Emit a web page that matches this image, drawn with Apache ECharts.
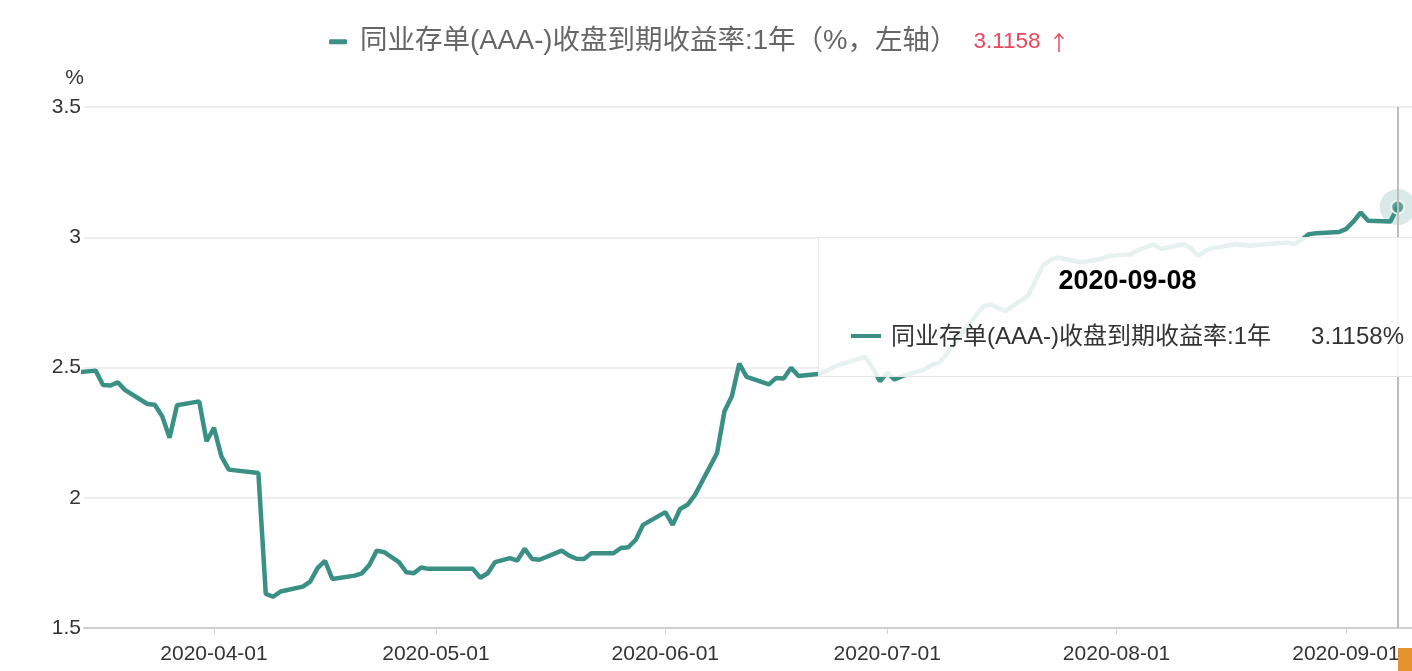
<!DOCTYPE html>
<html><head><meta charset="utf-8">
<script src="https://cdn.jsdelivr.net/npm/echarts@6/dist/echarts.min.js"></script>
<style>html,body{margin:0;padding:0;overflow:hidden;background:#fff}#c{width:1412px;height:671px}</style>
</head><body><div id="c"></div>
<script>
const seriesName = '同业存单(AAA-)收盘到期收益率:1年';
const legendSuffix = '（%，左轴）';
const dates = ['2020-03-13','2020-03-16','2020-03-17','2020-03-18','2020-03-19','2020-03-20','2020-03-23','2020-03-24','2020-03-25','2020-03-26','2020-03-27','2020-03-30','2020-03-31',
'2020-04-01','2020-04-02','2020-04-03','2020-04-07','2020-04-08','2020-04-09','2020-04-10','2020-04-13','2020-04-14','2020-04-15','2020-04-16','2020-04-17','2020-04-20','2020-04-21','2020-04-22','2020-04-23','2020-04-24','2020-04-26','2020-04-27','2020-04-28','2020-04-29','2020-04-30',
'2020-05-06','2020-05-07','2020-05-08','2020-05-09','2020-05-11','2020-05-12','2020-05-13','2020-05-14','2020-05-15','2020-05-18','2020-05-19','2020-05-20','2020-05-21','2020-05-22','2020-05-25','2020-05-26','2020-05-27','2020-05-28','2020-05-29',
'2020-06-01','2020-06-02','2020-06-03','2020-06-04','2020-06-05','2020-06-08','2020-06-09','2020-06-10','2020-06-11','2020-06-12','2020-06-15','2020-06-16','2020-06-17','2020-06-18','2020-06-19','2020-06-22','2020-06-23','2020-06-24','2020-06-28','2020-06-29','2020-06-30',
'2020-07-01','2020-07-02','2020-07-03','2020-07-06','2020-07-07','2020-07-08','2020-07-09','2020-07-10','2020-07-13','2020-07-14','2020-07-15','2020-07-16','2020-07-17','2020-07-20','2020-07-21','2020-07-22','2020-07-23','2020-07-24','2020-07-27','2020-07-28','2020-07-29','2020-07-30','2020-07-31',
'2020-08-03','2020-08-04','2020-08-05','2020-08-06','2020-08-07','2020-08-10','2020-08-11','2020-08-12','2020-08-13','2020-08-14','2020-08-17','2020-08-18','2020-08-19','2020-08-20','2020-08-21','2020-08-24','2020-08-25','2020-08-26','2020-08-27','2020-08-28','2020-08-31',
'2020-09-01','2020-09-02','2020-09-03','2020-09-04','2020-09-07','2020-09-08'];
const values = [2.48,2.488,2.433,2.431,2.443,2.413,2.36,2.357,2.313,2.23,2.355,2.37,2.217,
2.268,2.159,2.108,2.095,1.631,1.62,1.64,1.659,1.678,1.73,1.758,1.688,1.701,1.71,1.742,1.797,1.791,1.753,1.714,1.71,1.732,1.727,
1.727,1.693,1.71,1.753,1.768,1.759,1.804,1.765,1.762,1.797,1.778,1.766,1.765,1.787,1.787,1.807,1.81,1.838,1.896,
1.945,1.896,1.957,1.973,2.01,2.172,2.332,2.39,2.515,2.464,2.435,2.46,2.458,2.499,2.467,2.476,2.49,2.505,2.541,2.50,2.447,
2.48,2.454,2.467,2.492,2.51,2.518,2.55,2.59,2.70,2.735,2.742,2.727,2.717,2.775,2.83,2.89,2.912,2.922,2.905,2.907,2.912,2.918,2.928,
2.935,2.952,2.962,2.973,2.955,2.973,2.96,2.928,2.948,2.958,2.973,2.97,2.967,2.97,2.973,2.98,2.973,2.99,3.012,3.015,3.02,
3.031,3.06,3.095,3.063,3.06,3.1158];
const xTickDates = ['2020-04-01','2020-05-01','2020-06-01','2020-07-01','2020-08-01','2020-09-01'];
const yTicks = [1.5, 2, 2.5, 3, 3.5];

const DAY = 86400000;
const t = s => { const p = s.split('-').map(Number); return new Date(p[0], p[1]-1, p[2]).getTime(); };
const pad = n => (n < 10 ? '0' : '') + n;
const fmt = v => { const d = new Date(v); return d.getFullYear() + '-' + pad(d.getMonth()+1) + '-' + pad(d.getDate()); };
const data = dates.map((d, i) => [t(d), values[i]]);
const last = data.length - 1;
const lastVal = values[last];
const C = '#3b9085';
const FONT = "'Liberation Sans','Noto Sans CJK SC',sans-serif";

const chart = echarts.init(document.getElementById('c'));
chart.setOption({
  animation: false,
  textStyle: { fontFamily: FONT },
  legend: {
    top: 23, left: 324,
    icon: 'roundRect', itemWidth: 18, itemHeight: 5, itemGap: 10,
    data: [seriesName],
    formatter: n => '{a|' + n + legendSuffix + '}{b|' + lastVal.toFixed(4) + '}{c|↑}',
    textStyle: {
      rich: {
        a: { fontSize: 27.5, color: '#666', fontFamily: FONT, padding: [0, 0, 0, 8] },
        b: { fontSize: 22.5, color: '#e8475c', fontFamily: FONT, padding: [0, 0, 0, 16] },
        c: { fontSize: 21, color: '#e8475c', fontFamily: "'Noto Sans CJK SC',sans-serif", padding: [0, 0, 0, 8] }
      }
    }
  },
  grid: { left: 84, right: 0, top: 107, bottom: 43, containLabel: false, outerBoundsMode: 'none' },
  xAxis: {
    type: 'value',
    min: t('2020-03-14') + 0.43 * DAY,
    max: t('2020-09-09') + 0.93 * DAY,
    axisLine: { lineStyle: { color: '#cfcfcf', width: 2 } },
    axisTick: { show: true, length: 6, lineStyle: { color: '#c9d3e6' }, customValues: xTickDates.map(t) },
    axisLabel: { fontSize: 21, color: '#333', margin: 16, fontFamily: FONT, customValues: xTickDates.map(t), formatter: v => fmt(v) },
    splitLine: { show: false }
  },
  yAxis: {
    type: 'value',
    min: yTicks[0], max: yTicks[yTicks.length-1], interval: yTicks[1]-yTicks[0],
    name: '%', nameLocation: 'end', nameGap: 18,
    nameTextStyle: { fontSize: 21, color: '#333', align: 'right', fontFamily: FONT },
    axisLine: { show: false }, axisTick: { show: false },
    axisLabel: { fontSize: 21, color: '#333', margin: 3, fontFamily: FONT },
    splitLine: { lineStyle: { color: '#e8e8e8', width: 1.5 } }
  },
  tooltip: {
    trigger: 'axis',
    alwaysShowContent: true,
    transitionDuration: 0,
    position: [818, 237],
    backgroundColor: 'rgba(255,255,255,0.88)',
    borderColor: '#e6e6e6', borderWidth: 1, borderRadius: 0,
    padding: [24, 32, 25, 32],
    extraCssText: 'width:553px;box-shadow:none;',
    axisPointer: { type: 'line', lineStyle: { color: '#bdbdbd', width: 2, type: 'solid' }, label: { show: false } },
    formatter: params => {
      const p = params.find(q => q.seriesIndex === 0) || params[0];
      return '<div style="font-family:' + FONT.replace(/'/g, '') + '">' +
        '<div style="text-align:center;font-weight:bold;font-size:27px;color:#000;line-height:36px">' + fmt(p.value[0]) + '</div>' +
        '<div style="display:flex;align-items:center;margin-top:23px;font-size:24px;color:#333;line-height:30px">' +
        '<span style="display:inline-block;width:30px;height:4px;background:' + C + ';margin-right:10px"></span>' +
        '<span>' + seriesName + '</span><span style="margin-left:auto">' + p.value[1].toFixed(4) + '%</span></div></div>';
    }
  },
  graphic: [{ type: 'rect', right: 0, bottom: 0, shape: { width: 14, height: 23 }, style: { fill: '#e4922e' }, z: 100 }],
  series: [
    { name: seriesName, type: 'line', data: data, symbol: 'none', lineStyle: { color: C, width: 4.5 }, itemStyle: { color: C }, emphasis: { disabled: true }, z: 3 },
    { name: 'halo', type: 'scatter', data: [data[last]], symbolSize: 36, itemStyle: { color: 'rgba(59,144,133,0.25)' }, silent: true, z: 4, tooltip: { show: false } },
    { name: 'dot', type: 'scatter', data: [data[last]], symbolSize: 13, itemStyle: { color: C, borderColor: '#fff', borderWidth: 2 }, silent: true, z: 5, tooltip: { show: false } }
  ]
});
setTimeout(() => chart.dispatchAction({ type: 'showTip', seriesIndex: 0, dataIndex: last }), 50);
</script></body></html>
